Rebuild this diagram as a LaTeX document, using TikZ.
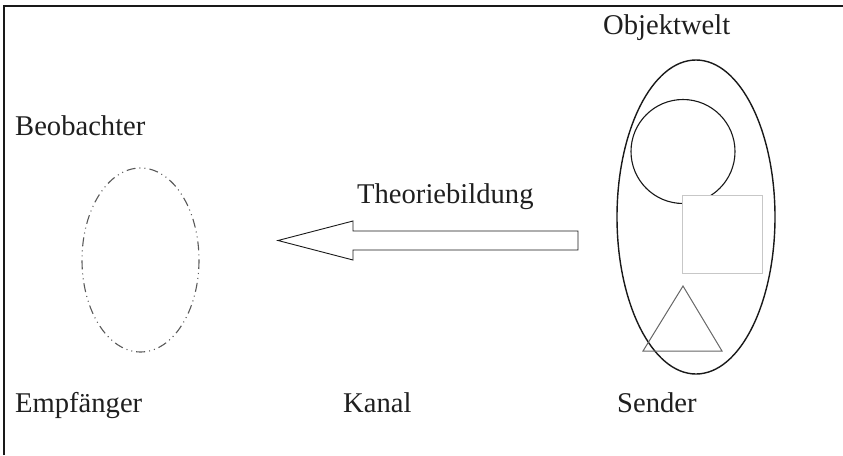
\documentclass[tikz,border=0pt]{standalone}
\usepackage{fontspec}
\setmainfont{Liberation Serif}
\begin{document}
\begin{tikzpicture}[x=1pt,y=-1pt,
  lbl/.style={anchor=base west,inner sep=0pt,font=\fontsize{28.6}{32}\selectfont,text=black!88},
  frameline/.style={line width=1.3pt,black!90},
  dashdot/.style={line width=1.1pt,black!65,dash pattern=on 9pt off 4pt on 1pt off 4pt on 1pt off 4pt}]
\useasboundingbox (0,0) rectangle (843,455);
% frame
\draw[frameline] (4,455) -- (4,6) -- (843,6);
% observer ellipse
\draw[dashdot] (140.5,260) ellipse [x radius=58.5, y radius=92];
% object world
\draw[line width=1.4pt,black!90] (696,217) ellipse [x radius=79, y radius=157];
\draw[line width=1.1pt,black!90] (683,151.5) circle [radius=52];
\draw[line width=1pt,black!22,fill=white] (682,195) rectangle (762,273);
\draw[line width=1pt,black!60] (683,286) -- (643,351) -- (722,351) -- cycle;
% arrow
\draw[line width=0.9pt,black!90] (578,231) -- (353,231) -- (353,221) -- (278,240.5) -- (353,260) -- (353,250) -- (578,250) -- cycle;
% labels
\node[lbl] (objektwelt) at (603,34) {Objektwelt};
\node[lbl] (beobachter) at (15,135) {Beobachter};
\node[lbl] (theorie) at (357,203) {Theoriebildung};
\node[lbl] (empf) at (15,412) {Empfänger};
\node[lbl] (kanal) at (343,412) {Kanal};
\node[lbl] (sender) at (617,412) {Sender};
\end{tikzpicture}
\end{document}
